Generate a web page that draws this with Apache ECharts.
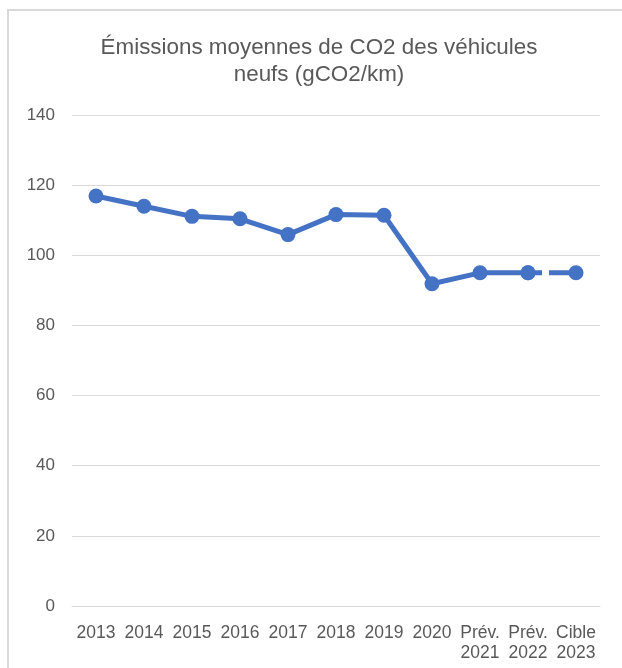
<!DOCTYPE html>
<html>
<head>
<meta charset="utf-8">
<script src="https://cdn.jsdelivr.net/npm/echarts@6/dist/echarts.min.js"></script>
<style>
  html, body { margin: 0; padding: 0; background: #fff; }
  .frame {
    position: absolute; left: 7px; top: 9px; width: 640px; height: 700px;
    border: 2px solid #d9d9d9; box-sizing: border-box;
  }
  #chart { position: absolute; left: 0; top: 0; width: 622px; height: 668px; }
</style>
</head>
<body>
<div class="frame"></div>
<div id="chart"></div>
<script>
// categories / values
const categories = ["2013", "2014", "2015", "2016", "2017", "2018", "2019", "2020", "Prév.\n2021", "Prév.\n2022", "Cible\n2023"];
const emissions = [116.9, 114, 111.1, 110.4, 105.9, 111.6, 111.4, 91.9, 95, 95, null];
const target = [null, null, null, null, null, null, null, null, null, 95, 95];
const yTicks = { min: 0, max: 140, interval: 20 };

const textColor = "#595959";
const lineColor = "#4472C4";

const chart = echarts.init(document.getElementById("chart"));
chart.setOption({
  animation: false,
  title: {
    text: "Émissions moyennes de CO2 des véhicules\nneufs (gCO2/km)",
    left: 314,
    top: 29,
    textAlign: "center",
    textStyle: {
      fontFamily: "Liberation Sans",
      fontSize: 22.4,
      fontWeight: "normal",
      color: textColor,
      lineHeight: 27,
    },
  },
  grid: {
    left: 72,
    right: 22,
    top: 115,
    bottom: 62,
  },
  xAxis: {
    type: "category",
    data: categories,
    boundaryGap: true,
    axisTick: { show: false },
    axisLine: { lineStyle: { color: "#d9d9d9", width: 1 } },
    axisLabel: {
      color: textColor,
      fontFamily: "Liberation Sans",
      fontSize: 17.5,
      lineHeight: 20,
      margin: 17,
      interval: 0,
    },
  },
  yAxis: {
    type: "value",
    min: yTicks.min,
    max: yTicks.max,
    interval: yTicks.interval,
    axisLine: { show: false },
    axisTick: { show: false },
    splitLine: { lineStyle: { color: "#d9d9d9", width: 1 } },
    axisLabel: {
      color: textColor,
      fontFamily: "Liberation Sans",
      fontSize: 17,
      margin: 17,
    },
  },
  series: [
    {
      type: "line",
      data: emissions,
      symbol: "circle",
      symbolSize: 15,
      itemStyle: { color: lineColor },
      lineStyle: { color: lineColor, width: 5 },
      z: 3,
    },
    {
      type: "line",
      data: target,
      symbol: "circle",
      symbolSize: 15,
      itemStyle: { color: lineColor },
      lineStyle: { color: lineColor, width: 5, type: [14, 7, 40, 0] },
      z: 2,
    },
  ],
});
</script>
</body>
</html>
